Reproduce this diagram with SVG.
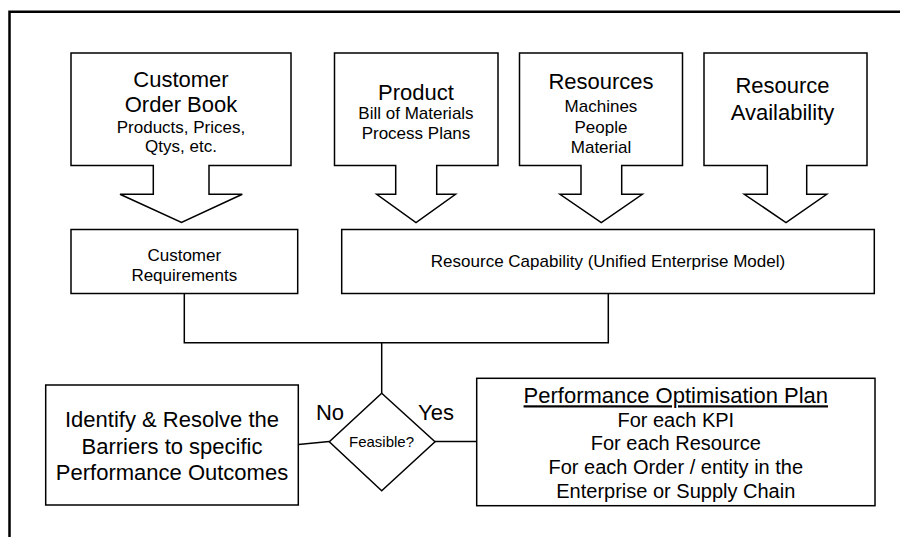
<svg xmlns="http://www.w3.org/2000/svg" width="900" height="537" viewBox="0 0 900 537">
<style>
.shape{fill:#fff;stroke:#000;stroke-width:1.5;stroke-linejoin:miter}
.conn{fill:none;stroke:#000;stroke-width:1.5}
.frame{fill:none;stroke:#000;stroke-width:2.5}
text{font-family:"Liberation Sans",Arial,sans-serif;fill:#000;text-anchor:middle}
.t22{font-size:22px}
.t20{font-size:20px}
.t17{font-size:17px}
.t15{font-size:15px}
</style>
<rect x="0" y="0" width="900" height="537" fill="#fff"/>
<path class="frame" d="M9.5,537 V11.7 H902"/>

<g id="customer-order-book">
<path class="shape" d="M71,53 H291 V165.5 H209 V194.3 H242.3 L181.5,222.5 L120,194.3 H153.3 V165.5 H71 Z"/>
<text class="t22" x="181" y="86.5">Customer</text>
<text class="t22" x="181" y="111.5">Order Book</text>
<text class="t17" x="181" y="133">Products, Prices,</text>
<text class="t17" x="181" y="152">Qtys, etc.</text>
</g>

<g id="product">
<path class="shape" d="M334.5,53 H498 V165.5 H436.7 V194.3 H455.5 L416,222.5 L376.7,194.3 H395.7 V165.5 H334.5 Z"/>
<text class="t22" x="416" y="100">Product</text>
<text class="t17" x="416" y="119">Bill of Materials</text>
<text class="t17" x="416" y="138.5">Process Plans</text>
</g>

<g id="resources">
<path class="shape" d="M519.5,53 H682.5 V165.5 H621.7 V194.3 H642.3 L601.3,222.5 L560,194.3 H581 V165.5 H519.5 Z"/>
<text class="t22" x="601" y="89.3">Resources</text>
<text class="t17" x="601" y="111.7">Machines</text>
<text class="t17" x="601" y="132.7">People</text>
<text class="t17" x="601" y="153.3">Material</text>
</g>

<g id="resource-availability">
<path class="shape" d="M704,53 H867 V165.5 H806.7 V194.3 H826.7 L786,222.5 L744.3,194.3 H767.3 V165.5 H704 Z"/>
<text class="t22" x="782.5" y="92.7">Resource</text>
<text class="t22" x="782.5" y="120">Availability</text>
</g>

<g id="customer-requirements">
<rect class="shape" x="71" y="229.5" width="226.7" height="64"/>
<text class="t17" x="184.3" y="261">Customer</text>
<text class="t17" x="184.3" y="280.5">Requirements</text>
</g>

<g id="resource-capability">
<rect class="shape" x="341.7" y="229.5" width="532.6" height="64"/>
<text class="t17" x="608" y="267">Resource Capability (Unified Enterprise Model)</text>
</g>

<g id="connectors">
<path class="conn" d="M184.3,293.5 V342.7 H608.3 V293.5"/>
<path class="conn" d="M381.7,342.7 V393.3"/>
<path class="conn" d="M329.3,441.5 L298.3,444.5"/>
<path class="conn" d="M435,441.5 H476.7"/>
<text class="t22" x="330" y="420">No</text>
<text class="t22" x="436" y="420">Yes</text>
</g>

<g id="feasible">
<path class="shape" d="M381.7,393.3 L435,441.8 L381.7,490.7 L329.3,441.8 Z"/>
<text class="t15" x="381.5" y="447.3">Feasible?</text>
</g>

<g id="identify-resolve">
<rect class="shape" x="45.7" y="385" width="252.6" height="120"/>
<text class="t22" x="172" y="427.3">Identify &amp; Resolve the</text>
<text class="t22" x="172" y="454">Barriers to specific</text>
<text class="t22" x="172" y="480">Performance Outcomes</text>
</g>

<g id="performance-plan">
<rect class="shape" x="476.7" y="378.3" width="398.3" height="127.4"/>
<text class="t22" x="675.8" y="403.3" text-decoration="underline">Performance Optimisation Plan</text>
<text class="t20" x="675.8" y="426.7">For each KPI</text>
<text class="t20" x="675.8" y="450">For each Resource</text>
<text class="t20" x="675.8" y="474">For each Order / entity in the</text>
<text class="t20" x="675.8" y="498.3">Enterprise or Supply Chain</text>
</g>
</svg>
